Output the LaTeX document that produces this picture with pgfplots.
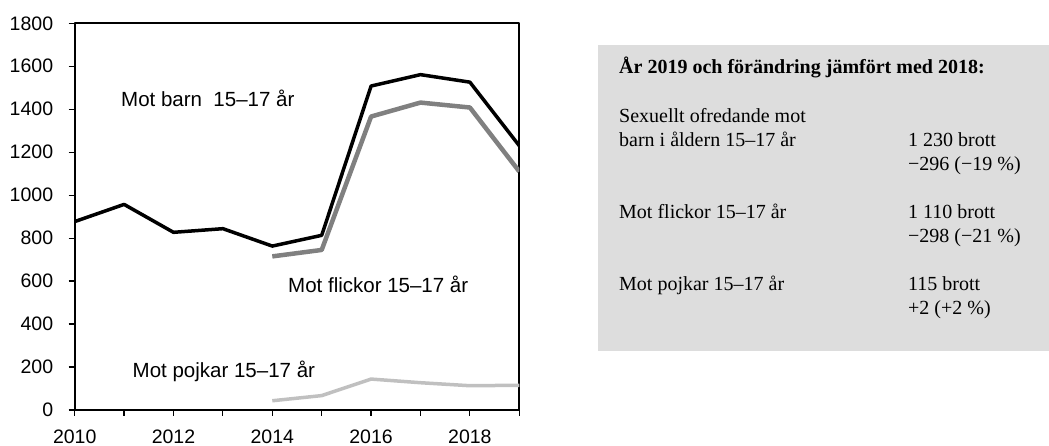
\documentclass[border=0pt]{standalone}
\usepackage{fontspec}
\setmainfont{Liberation Sans}
\newfontfamily\boxfont{Liberation Serif}
\usepackage{pgfplots}
\pgfplotsset{compat=1.18}
\definecolor{flick}{HTML}{808080}
\definecolor{pojk}{HTML}{C0C0C0}
\definecolor{boxbg}{HTML}{DDDDDD}
\newcommand{\tlfont}{\fontsize{19.5}{20}\selectfont}
\begin{document}
\begin{tikzpicture}[x=1pt,y=1pt]
\useasboundingbox (0,0) rectangle (1049,446);
\begin{axis}[
  at={(74.7pt,36pt)}, anchor=south west,
  scale only axis, width=444.6pt, height=386.7pt,
  xmin=2010, xmax=2019, ymin=0, ymax=1800,
  xtick={2010,2012,...,2018}, minor xtick={2011,2013,...,2019},
  ytick={0,200,...,1800},
  tick pos=left, tick align=outside,
  major tick length=6pt, minor tick length=6pt,
  every tick/.style={black, line width=1.2pt},
  axis line style={line width=2.4pt},
  /pgf/number format/assume math mode=true,
  xticklabel={\tlfont\pgfmathprintnumber[1000 sep={},assume math mode=true]{\tick}},
  yticklabel={\tlfont\pgfmathprintnumber[1000 sep={},assume math mode=true]{\tick}},
  xticklabel style={inner sep=0pt, anchor=north, yshift=-14pt},
  yticklabel style={inner sep=0pt, anchor=east, xshift=-15.4pt},
  line join=round,
]
\addplot[black, line width=3.5pt] coordinates {
 (2010,877) (2011,957) (2012,827) (2013,844) (2014,763) (2015,813)
 (2016,1508) (2017,1561) (2018,1526) (2019,1230)};
\addplot[flick, line width=4.5pt] coordinates {
 (2014,715) (2015,745) (2016,1366) (2017,1431) (2018,1408) (2019,1110)};
\addplot[pojk, line width=3.5pt] coordinates {
 (2014,43) (2015,67) (2016,144) (2017,127) (2018,113) (2019,115)};
\end{axis}
\begin{scope}[every node/.style={inner sep=0pt, anchor=base west, font=\fontsize{20.5}{22}\selectfont}]
\node at (121,339.3) {Mot barn\ \ 15–17 år};
\node at (288,153.3) {Mot flickor 15–17 år};
\node at (132.5,68.7) {Mot pojkar 15–17 år};
\end{scope}
\fill[boxbg] (598.3,95.3) rectangle (1049,401.3);
\begin{scope}[every node/.style={inner sep=0pt, anchor=base west, font=\boxfont\fontsize{20}{22}\selectfont}]
\node at (619,372) {\bfseries År 2019 och förändring jämfört med 2018:};
\node at (619,323.3) {Sexuellt ofredande mot};
\node at (619,299.3) {barn i åldern 15–17 år};
\node at (908,299.3) {1 230 brott};
\node at (908,275.3) {−296 (−19 \%)};
\node at (619,227.3) {Mot flickor 15–17 år};
\node at (908,227.3) {1 110 brott};
\node at (908,203.3) {−298 (−21 \%)};
\node at (619,155.3) {Mot pojkar 15–17 år};
\node at (908,155.3) {115 brott};
\node at (908,131.3) {+2 (+2 \%)};
\end{scope}
\end{tikzpicture}
\end{document}
